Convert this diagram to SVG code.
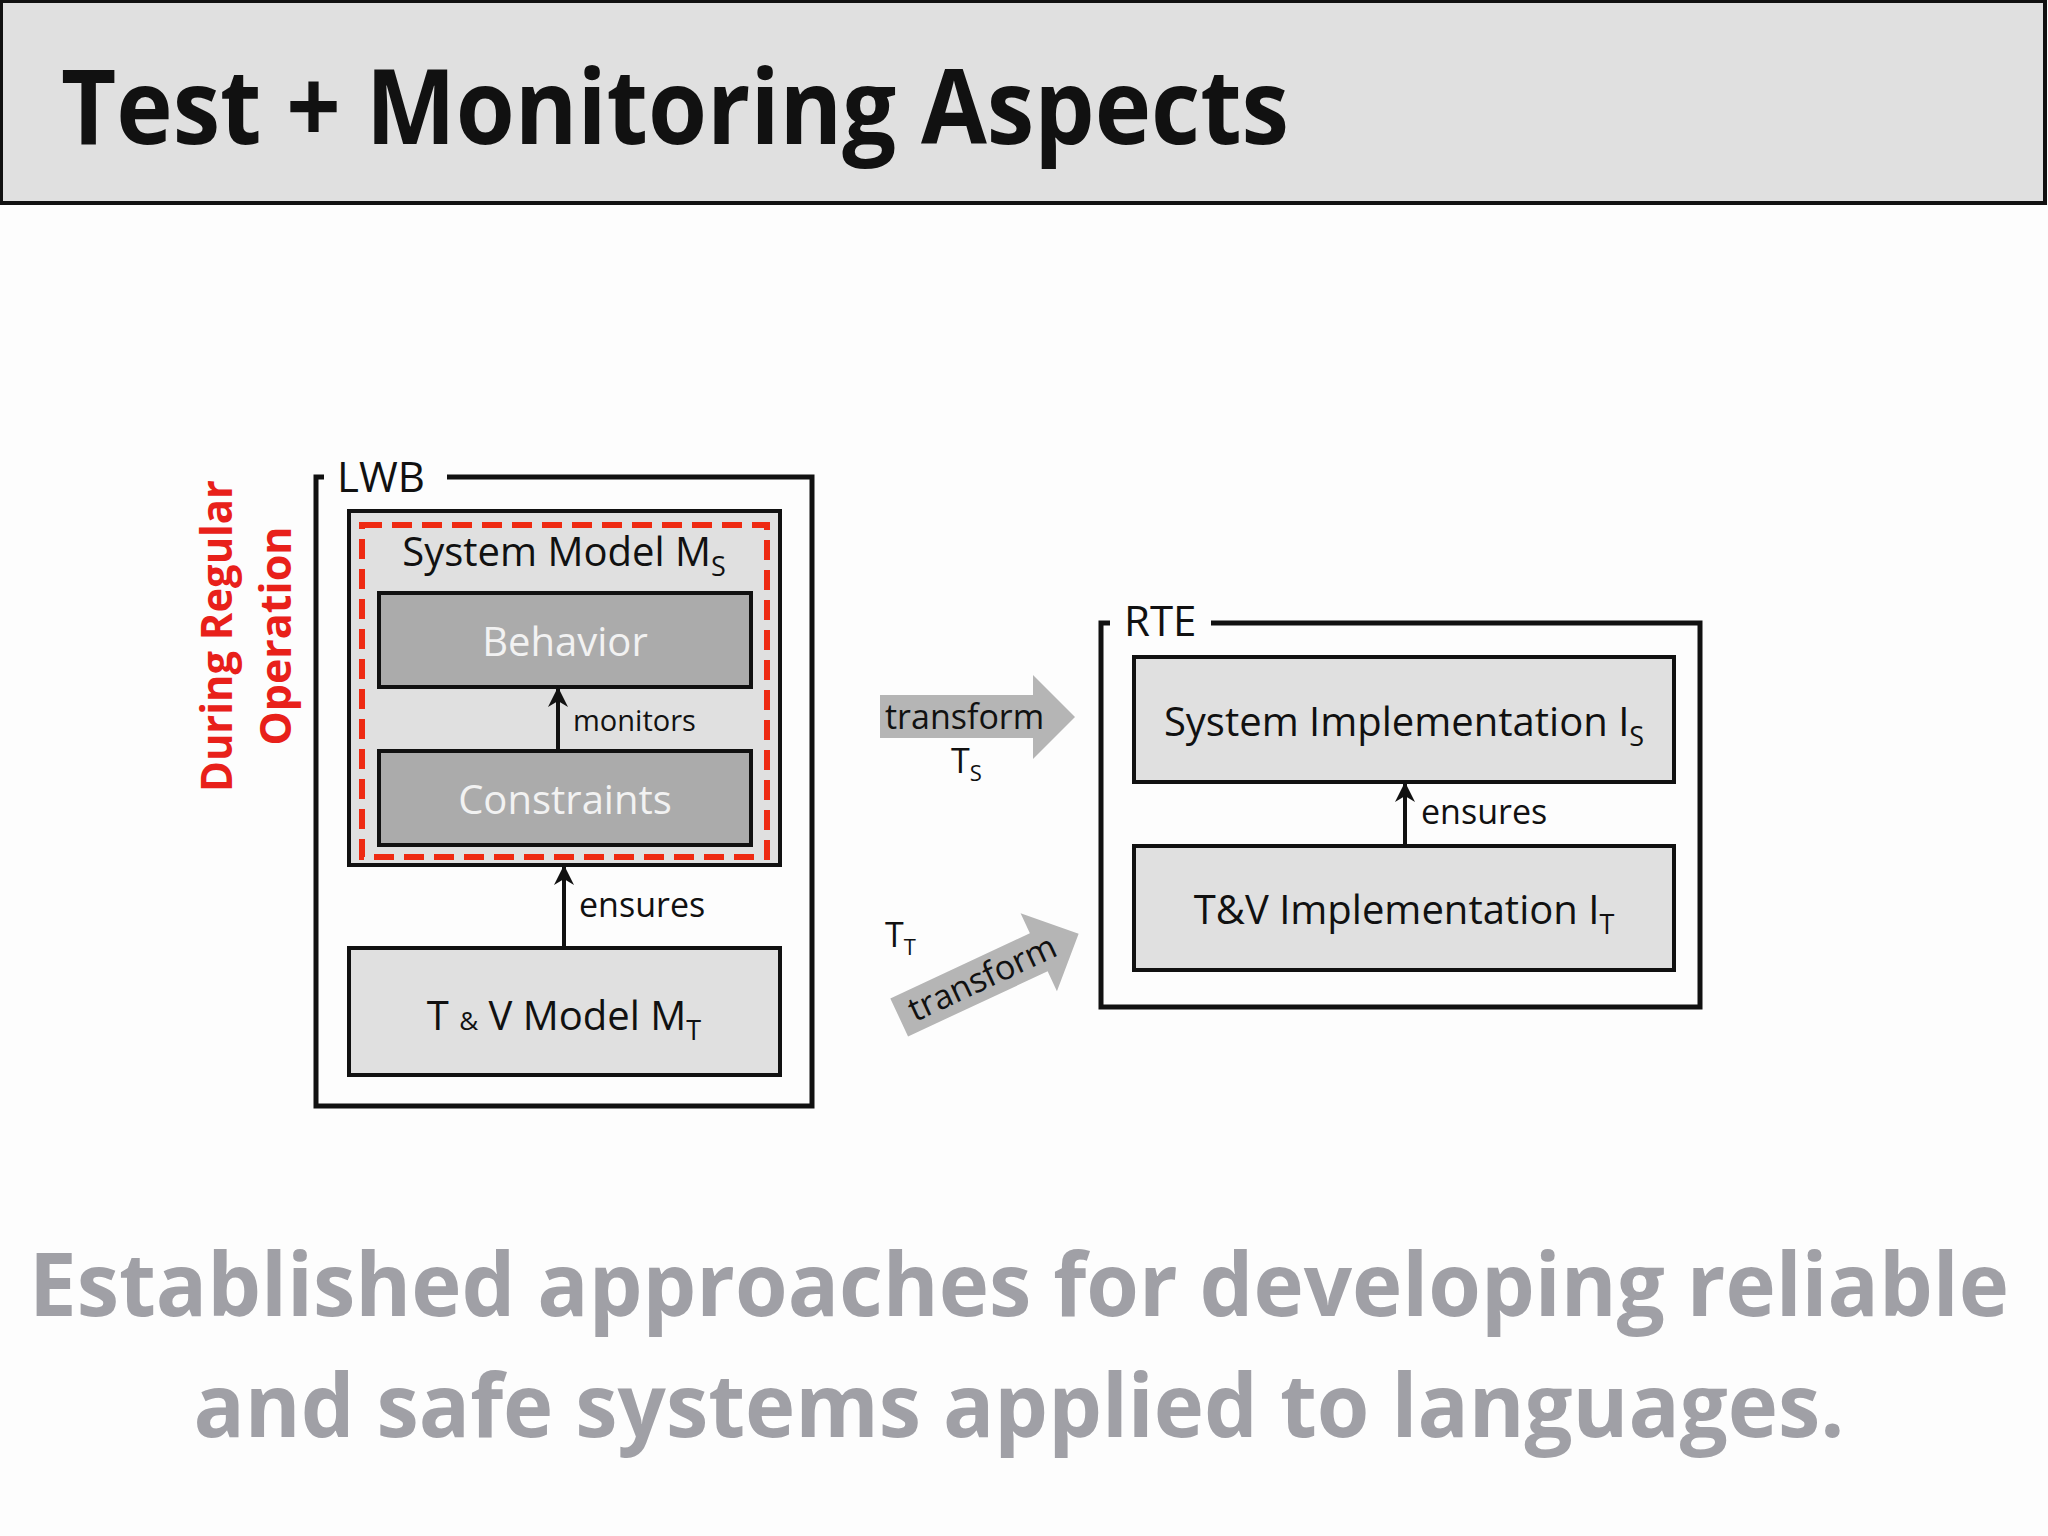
<svg xmlns="http://www.w3.org/2000/svg" width="2048" height="1536" viewBox="0 0 2048 1536">
<defs>
<style>
.t{font-family:"Open Sans","Liberation Sans",sans-serif;fill:#111}
.box{fill:#e0e0e0;stroke:#111;stroke-width:4}
.dk{fill:#ababab;stroke:#111;stroke-width:4}
.frame{fill:none;stroke:#111;stroke-width:5}
.ln{stroke:#111;stroke-width:4;marker-end:url(#ah)}
</style>
<marker id="ah" viewBox="0 0 10 10" refX="9" refY="5" markerWidth="5" markerHeight="5" orient="auto" markerUnits="strokeWidth"><path d="M0,0 L10,5 L0,10 L3,5 z" fill="#111"/></marker>
</defs>
<rect width="2048" height="1536" fill="#fdfdfd"/>
<g id="header">
<rect x="1" y="1" width="2044" height="202" fill="#e0e0e0" stroke="#111" stroke-width="4"/>
<text x="61" y="144" class="t" font-size="104" font-weight="bold" textLength="1228" lengthAdjust="spacingAndGlyphs">Test + Monitoring Aspects</text>
</g>
<g id="side-label" class="t" font-weight="bold" font-size="43" text-anchor="middle">
<text transform="translate(232,636) rotate(-90)" style="fill:#e8201a" textLength="312" lengthAdjust="spacingAndGlyphs">During Regular</text>
<text transform="translate(291,636) rotate(-90)" style="fill:#e8201a">Operation</text>
</g>
<g id="lwb">
<path class="frame" d="M324,477 H316 V1106 H812 V477 H447"/>
<text x="337" y="492" class="t" font-size="42">LWB</text>
</g>
<g id="system-model">
<rect class="box" x="349" y="511" width="431" height="354"/>
<rect x="362" y="525" width="405" height="332" fill="none" stroke="#ee2a12" stroke-width="6" stroke-dasharray="20,10"/>
<text x="564" y="566" class="t" font-size="40" text-anchor="middle">System Model M<tspan font-size="27" dy="10">S</tspan></text>
</g>
<g id="behavior">
<rect class="dk" x="379" y="593" width="372" height="94"/>
<text x="565" y="656" class="t" font-size="40" text-anchor="middle" style="fill:#f2f2f2">Behavior</text>
</g>
<g id="constraints">
<rect class="dk" x="379" y="751" width="372" height="94"/>
<text x="565" y="814" class="t" font-size="40" text-anchor="middle" style="fill:#f2f2f2">Constraints</text>
</g>
<g id="tv-model">
<rect class="box" x="349" y="948" width="431" height="127"/>
<text x="564" y="1030" class="t" font-size="40" text-anchor="middle">T <tspan font-size="26">&amp;</tspan> V Model M<tspan font-size="27" dy="10">T</tspan></text>
</g>
<g id="rte">
<path class="frame" d="M1110,623 H1101 V1007 H1700 V623 H1211"/>
<text x="1124" y="636" class="t" font-size="42">RTE</text>
</g>
<g id="sys-impl">
<rect class="box" x="1134" y="657" width="540" height="125"/>
<text x="1404" y="736" class="t" font-size="40" text-anchor="middle">System Implementation I<tspan font-size="27" dy="10">S</tspan></text>
</g>
<g id="tv-impl">
<rect class="box" x="1134" y="846" width="540" height="124"/>
<text x="1404" y="924" class="t" font-size="40" text-anchor="middle">T&amp;V Implementation I<tspan font-size="27" dy="10">T</tspan></text>
</g>
<g id="connectors">
<line class="ln" x1="558" y1="751" x2="558" y2="689"/>
<text x="573" y="731" class="t" font-size="29">monitors</text>
<line class="ln" x1="564" y1="948" x2="564" y2="867"/>
<text x="579" y="917" class="t" font-size="34">ensures</text>
<line class="ln" x1="1405" y1="846" x2="1405" y2="784"/>
<text x="1421" y="824" class="t" font-size="34">ensures</text>
<path d="M880,695 H1033 V675 L1075,717 L1033,759 V738 H880 Z" fill="#b5b5b5"/>
<text x="885" y="729" class="t" font-size="34">transform</text>
<text x="951" y="773" class="t" font-size="34">T<tspan font-size="22" dy="8">S</tspan></text>
<g transform="translate(988,976) rotate(-25)">
<path d="M-98,-21 H56 V-43 L100,0 L56,43 V21 H-98 Z" fill="#b5b5b5"/>
<text x="-6" y="11" class="t" font-size="34" text-anchor="middle">transform</text>
</g>
<text x="885" y="947" class="t" font-size="34">T<tspan font-size="22" dy="8">T</tspan></text>
</g>
<g id="footer" font-family="'Open Sans','Liberation Sans',sans-serif" font-weight="bold" font-size="88" fill="#a0a0a6" text-anchor="middle">
<text x="1019" y="1316" textLength="1980" lengthAdjust="spacingAndGlyphs">Established approaches for developing reliable</text>
<text x="1019" y="1437" textLength="1651" lengthAdjust="spacingAndGlyphs">and safe systems applied to languages.</text>
</g>
</svg>
